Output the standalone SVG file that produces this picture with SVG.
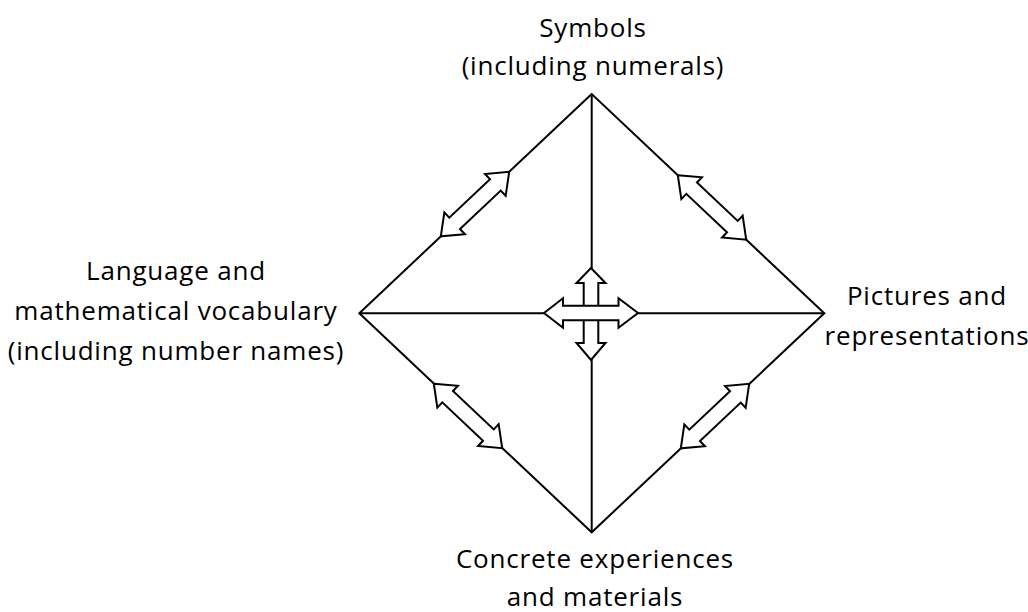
<svg xmlns="http://www.w3.org/2000/svg" width="1028" height="612" viewBox="0 0 1028 612">
<style>
.ln{stroke:#000;stroke-width:2;fill:none}
.ar{stroke:#000;stroke-width:2;fill:#fff;stroke-linejoin:miter}
.t{font-family:"Open Sans","Liberation Sans",sans-serif;font-size:26px;letter-spacing:0.8px;fill:#000;text-anchor:middle}
</style>
<defs>
<path id="dbl" d="M -47 0 L -28 -15 L -28 -7.8 L 28 -7.8 L 28 -15 L 47 0 L 28 15 L 28 7.8 L -28 7.8 L -28 15 Z"/>
</defs>
<g id="connectors">
<path class="ln" d="M 591.7 94 L 359.3 313.3 L 591.7 532.3 L 824.3 313.3 Z"/>
<line class="ln" x1="591.7" y1="94" x2="591.7" y2="532.3"/>
<line class="ln" x1="359.3" y1="313.3" x2="824.3" y2="313.3"/>
<use href="#dbl" class="ar" transform="translate(475 204.1) rotate(-43.34)"/>
<use href="#dbl" class="ar" transform="translate(712 207.4) rotate(43.32)"/>
<use href="#dbl" class="ar" transform="translate(468 415.9) rotate(43.34)"/>
<use href="#dbl" class="ar" transform="translate(715 416.1) rotate(-43.32)"/>
<path class="ar" d="M 591 268 L 605.5 283 L 598.3 283 L 598.3 343 L 605.5 343 L 591 360 L 576.5 343 L 583.7 343 L 583.7 283 L 576.5 283 Z"/>
<path class="ar" d="M 544 313 L 563 298.3 L 563 305.7 L 618.5 305.7 L 618.5 298.3 L 638 313 L 618.5 327.7 L 618.5 320.3 L 563 320.3 L 563 327.7 Z"/>
</g>
<g id="node-symbols">
<text class="t" x="593" y="37">Symbols</text>
<text class="t" x="593" y="75">(including numerals)</text>
</g>
<g id="node-language">
<text class="t" x="176" y="280">Language and</text>
<text class="t" x="176" y="320">mathematical vocabulary</text>
<text class="t" x="176" y="360">(including number names)</text>
</g>
<g id="node-pictures">
<text class="t" x="927" y="305">Pictures and</text>
<text class="t" x="927" y="345">representations</text>
</g>
<g id="node-concrete">
<text class="t" x="595" y="568">Concrete experiences</text>
<text class="t" x="595" y="606">and materials</text>
</g>
</svg>
